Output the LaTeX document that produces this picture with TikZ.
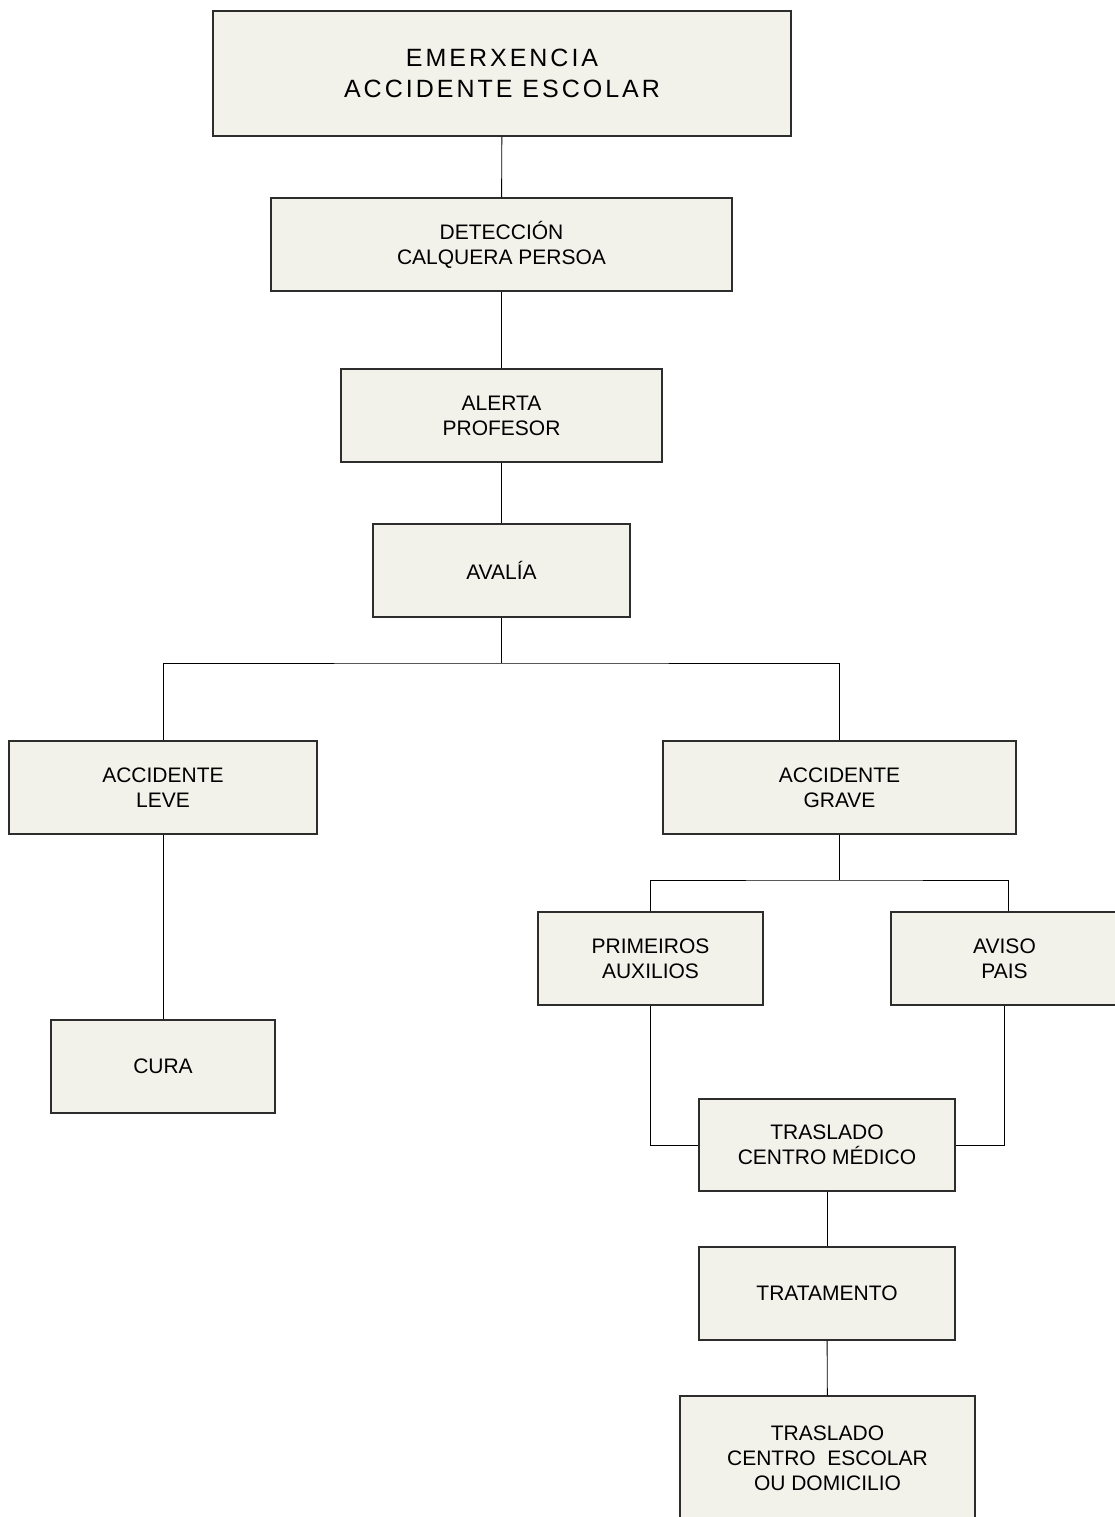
\documentclass[tikz,border=0pt]{standalone}
\usepackage{fontspec}
\setmainfont{Liberation Sans}
\newfontfamily\spacedfont[LetterSpace=12]{Liberation Sans}
\definecolor{boxfill}{RGB}{242,242,235}
\definecolor{boxline}{RGB}{45,45,45}
\begin{document}
\begin{tikzpicture}[x=1pt,y=-1pt,
  fbox/.style={draw=boxline,line width=1.4pt,fill=boxfill,rectangle,inner sep=0pt,
    align=center,font=\fontsize{21}{25}\selectfont},
  conn/.style={draw=black,line width=0.9pt}]
\useasboundingbox (0,0) rectangle (1115,1517);
\node[fbox,minimum width=578pt,minimum height=125pt,font=\fontsize{25}{31}\spacedfont] (top) at (502,73.5) {EMERXENCIA\\ACCIDENTE ESCOLAR};
\node[fbox,minimum width=461pt,minimum height=93pt] (det) at (501.5,244.5) {DETECCIÓN\\CALQUERA PERSOA};
\node[fbox,minimum width=321pt,minimum height=93pt] (alert) at (501.5,415.5) {ALERTA\\PROFESOR};
\node[fbox,minimum width=257pt,minimum height=93pt] (aval) at (501.5,570.5) {AVALÍA};
\node[fbox,minimum width=308pt,minimum height=93pt] (leve) at (163,787.5) {ACCIDENTE\\LEVE};
\node[fbox,minimum width=353pt,minimum height=93pt] (grave) at (839.5,787.5) {ACCIDENTE\\GRAVE};
\node[fbox,minimum width=224pt,minimum height=93pt] (cura) at (163,1066.5) {CURA};
\node[fbox,minimum width=225pt,minimum height=93pt] (prim) at (650.5,958.5) {PRIMEIROS\\AUXILIOS};
\node[fbox,minimum width=227pt,minimum height=93pt] (aviso) at (1004.5,958.5) {AVISO\\PAIS};
\node[fbox,minimum width=256pt,minimum height=92pt] (tras) at (827,1145) {TRASLADO\\CENTRO MÉDICO};
\node[fbox,minimum width=256pt,minimum height=93pt] (trat) at (827,1293.5) {TRATAMENTO};
\node[fbox,minimum width=295pt,minimum height=125pt] (fin) at (827.5,1458.5) {TRASLADO\\CENTRO\ \ ESCOLAR\\OU DOMICILIO};
\coordinate (j1) at (501.5,663);
\coordinate (j2) at (839.5,880);
\draw[conn] (top) -- (det);
\draw[conn] (det) -- (alert);
\draw[conn] (alert) -- (aval);
\draw[conn] (aval) -- (j1);
\draw[conn] (leve.north) |- (j1) -| (grave.north);
\draw[conn] (leve) -- (cura);
\draw[conn] (grave) -- (j2);
\draw[conn] (prim.north) |- (j2) -| ([xshift=4pt]aviso.north);
\draw[conn] (prim.south) |- (tras.west);
\draw[conn] (aviso.south) |- (tras.east);
\draw[conn] (tras) -- (trat);
\draw[conn] (trat) -- (fin);
\end{tikzpicture}
\end{document}
